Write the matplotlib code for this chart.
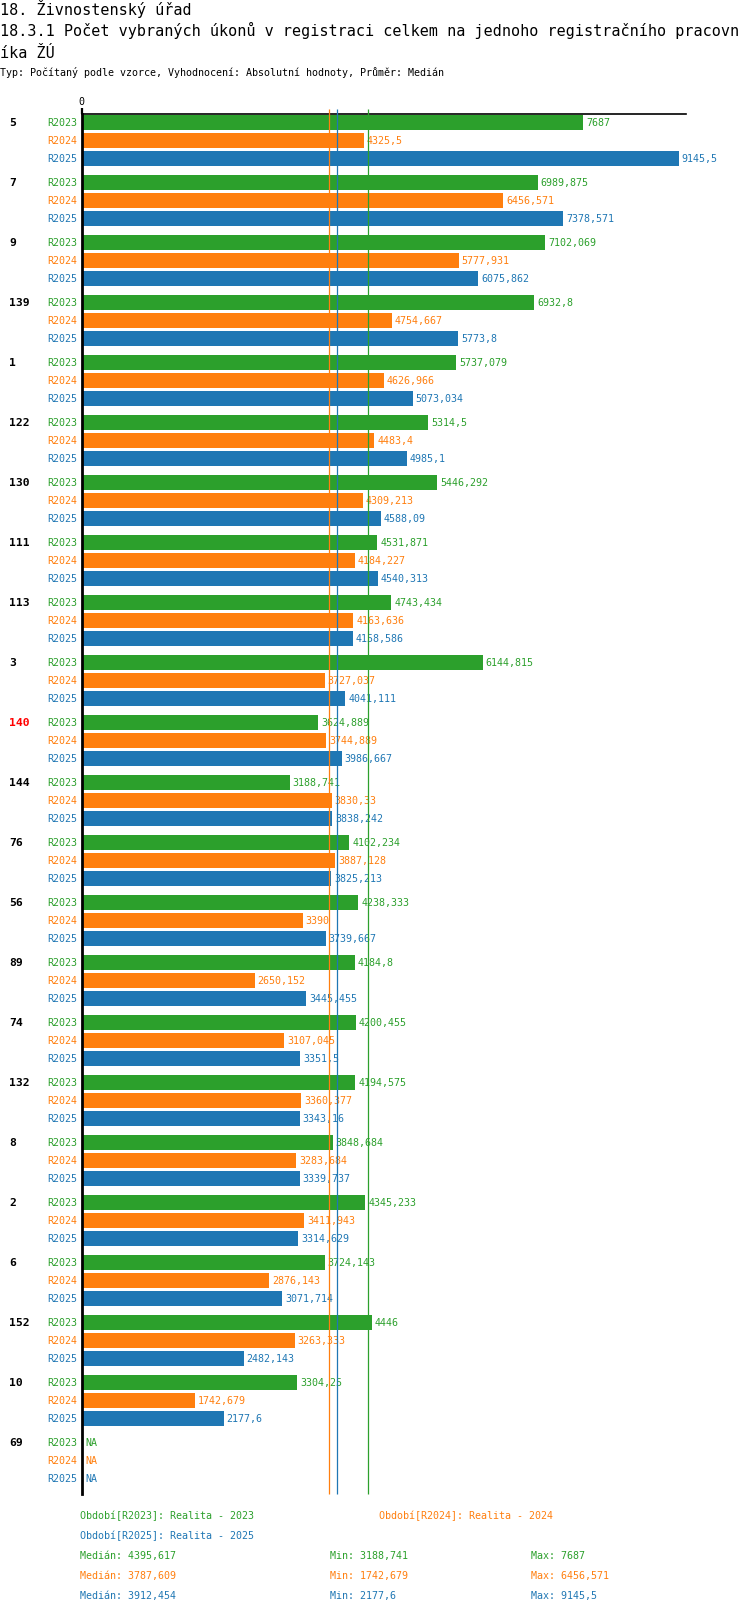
import matplotlib
matplotlib.use("Agg")
import matplotlib.pyplot as plt

plt.rcParams["font.family"] = ["DejaVu Sans Mono", "DejaVu Sans"]

# ---------------------------------------------------------------------------
# data
# ---------------------------------------------------------------------------
TITLE_1 = "18. Živnostenský úřad"
TITLE_2 = "18.3.1 Počet vybraných úkonů v registraci celkem na jednoho registračního pracovn"
TITLE_3 = "íka ŽÚ"
SUBTITLE = "Typ: Počítaný podle vzorce, Vyhodnocení: Absolutní hodnoty, Průměr: Medián"

groups = ["5", "7", "9", "139", "1", "122", "130", "111", "113", "3", "140",
          "144", "76", "56", "89", "74", "132", "8", "2", "6", "152", "10", "69"]
highlight = "140"

series = ["R2023", "R2024", "R2025"]
series_desc = ["Realita - 2023", "Realita - 2024", "Realita - 2025"]
colors = ["#2ca02c", "#ff7f0e", "#1f77b4"]

r2023 = [7687, 6989.875, 7102.069, 6932.8, 5737.079, 5314.5, 5446.292, 4531.871,
         4743.434, 6144.815, 3624.889, 3188.741, 4102.234, 4238.333, 4184.8,
         4200.455, 4194.575, 3848.684, 4345.233, 3724.143, 4446, 3304.25, None]
r2024 = [4325.5, 6456.571, 5777.931, 4754.667, 4626.966, 4483.4, 4309.213, 4184.227,
         4163.636, 3727.037, 3744.889, 3830.33, 3887.128, 3390, 2650.152,
         3107.045, 3360.377, 3283.684, 3411.943, 2876.143, 3263.333, 1742.679, None]
r2025 = [9145.5, 7378.571, 6075.862, 5773.8, 5073.034, 4985.1, 4588.09, 4540.313,
         4158.586, 4041.111, 3986.667, 3838.242, 3825.213, 3739.667, 3445.455,
         3351.5, 3343.16, 3339.737, 3314.629, 3071.714, 2482.143, 2177.6, None]
values = [r2023, r2024, r2025]

medians = [4395.617, 3787.609, 3912.454]
mins = [3188.741, 1742.679, 2177.6]
maxs = [7687, 6456.571, 9145.5]

# ---------------------------------------------------------------------------
# layout (pixels of a 750 x 1614 canvas)
# ---------------------------------------------------------------------------
W, H = 750, 1614
AX_LEFT, AX_RIGHT, AX_TOP, AX_BOTTOM = 81.5, 686, 114, 1494
ROW_PX = 18.0
GROUP_PX = 60.0
BAR_PX = 15.0
X_MAX = 9260


def fmt(v):
    s = f"{v:.3f}".rstrip("0").rstrip(".")
    return s.replace(".", ",")


def fy(y_px):
    return 1 - y_px / H


fig = plt.figure(figsize=(W / 100, H / 100), dpi=100)
ax = fig.add_axes([AX_LEFT / W, fy(AX_BOTTOM), (AX_RIGHT - AX_LEFT) / W,
                   (AX_BOTTOM - AX_TOP) / H])

small = 7.2
for g, name in enumerate(groups):
    base = g * GROUP_PX / ROW_PX
    for s, ser in enumerate(series):
        y = base + s
        v = values[s][g]
        if s == 0:
            ax.annotate(name, (0, y), xytext=(9 - AX_LEFT, 0), textcoords="offset pixels",
                        ha="left", va="center", fontsize=8.2, fontweight="bold",
                        color="red" if name == highlight else "black",
                        annotation_clip=False)
        ax.annotate(ser, (0, y), xytext=(-4.5, 0), textcoords="offset pixels",
                    ha="right", va="center", fontsize=small, color=colors[s],
                    annotation_clip=False)
        if v is None:
            ax.annotate("NA", (0, y), xytext=(4, 0), textcoords="offset pixels",
                        ha="left", va="center", fontsize=small, color=colors[s],
                        annotation_clip=False)
            continue
        ax.barh(y, v, height=BAR_PX / ROW_PX, color=colors[s], zorder=2)
        ax.annotate(fmt(v), (v, y), xytext=(3, 0), textcoords="offset pixels",
                    ha="left", va="center", fontsize=small, color=colors[s],
                    annotation_clip=False)

last = (len(groups) - 1) * GROUP_PX / ROW_PX + 2
ax.set_ylim(last + (AX_BOTTOM - AX_TOP - 8.5 - (len(groups) - 1) * GROUP_PX - 2 * ROW_PX) / ROW_PX,
            -8.5 / ROW_PX)
ax.set_xlim(0, X_MAX)

# median lines
ext = 5 / (AX_BOTTOM - AX_TOP)
for s in range(3):
    ax.vlines(medians[s], 0, 1 + ext, transform=ax.get_xaxis_transform(),
              colors=colors[s], lw=0.9, zorder=3, clip_on=False)

for side in ["right", "bottom"]:
    ax.spines[side].set_visible(False)
ax.spines["top"].set_linewidth(1.2)
ax.spines["left"].set_linewidth(2.0)
ax.spines["left"].set_zorder(4)
ax.xaxis.tick_top()
ax.set_xticks([0])
ax.set_xticklabels(["0"])
ax.tick_params(axis="x", length=4, width=1.6, pad=1, labelsize=small)
ax.set_yticks([])

# header
fig.text(0, fy(14.5), TITLE_1, fontsize=10.9, va="baseline", ha="left")
fig.text(0, fy(36), TITLE_2, fontsize=10.9, va="baseline", ha="left")
fig.text(0, fy(57.5), TITLE_3, fontsize=10.9, va="baseline", ha="left")
fig.text(0, fy(75.5), SUBTITLE, fontsize=small, va="baseline", ha="left")

# legend / statistics
leg_pos = [(80, 1516), (379, 1516), (80, 1536)]
for s in range(3):
    x, y = leg_pos[s]
    fig.text(x / W, fy(y), f"Období[{series[s]}]: {series_desc[s]}", fontsize=small,
             color=colors[s], va="center", ha="left")
for s in range(3):
    y = 1556 + 20 * s
    fig.text(80 / W, fy(y), f"Medián: {fmt(medians[s])}", fontsize=small,
             color=colors[s], va="center", ha="left")
    fig.text(330 / W, fy(y), f"Min: {fmt(mins[s])}", fontsize=small,
             color=colors[s], va="center", ha="left")
    fig.text(531 / W, fy(y), f"Max: {fmt(maxs[s])}", fontsize=small,
             color=colors[s], va="center", ha="left")

fig.savefig("out.png", dpi=100)
